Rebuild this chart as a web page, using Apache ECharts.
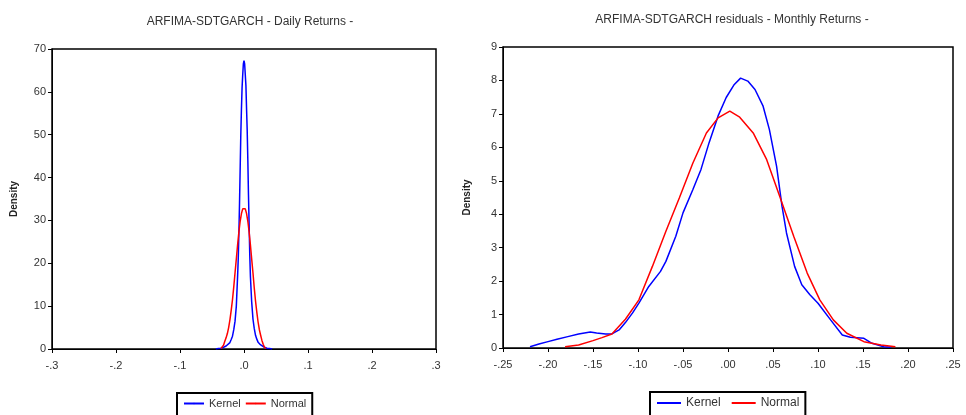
<!DOCTYPE html>
<html>
<head>
<meta charset="utf-8">
<script src="https://cdn.jsdelivr.net/npm/echarts@6/dist/echarts.min.js"></script>
<style>
html,body{margin:0;padding:0;background:#fff;}
#c{width:966px;height:415px;}
</style>
</head>
<body>
<div id="c"></div>
<script>
// ---- Daily returns (left panel) ----
const dailyKernelX = [-0.044,-0.040,-0.036,-0.032,-0.028,-0.025,-0.022,-0.020,-0.018,-0.016,-0.014,-0.012,-0.010,-0.009,-0.008,-0.007,-0.006,-0.005,-0.004,-0.003,-0.002,-0.001,0,0.001,0.002,0.003,0.004,0.005,0.006,0.007,0.008,0.009,0.010,0.012,0.014,0.016,0.018,0.020,0.022,0.025,0.028,0.032,0.036,0.040,0.044];
const dailyKernelY = [0.0,0.1,0.2,0.4,0.7,1.0,1.5,2.2,3.0,4.5,6.5,10,17,21,27,34,42,50,56,61,64,66.5,67.3,66.5,64,61.5,56,51,44,36,29,22,17,11,7,4.8,3.2,2.3,1.6,1.1,0.7,0.4,0.2,0.1,0.0];
const dailyNormalX = [-0.036,-0.034,-0.032,-0.030,-0.028,-0.026,-0.024,-0.022,-0.020,-0.018,-0.016,-0.014,-0.012,-0.010,-0.008,-0.006,-0.004,-0.002,0,0.002,0.004,0.006,0.008,0.010,0.012,0.014,0.016,0.018,0.020,0.022,0.024,0.026,0.028,0.030,0.032,0.034];
const dailyNormalY = [0.1,0.4,0.9,1.8,2.6,3.6,5.0,6.8,9.0,11.5,14.5,17.8,21.0,24.3,27.3,29.8,31.6,32.7,33.0,32.7,31.6,29.8,27.3,24.3,21.0,17.8,14.3,11.2,8.6,6.3,4.5,3.2,2.0,1.1,0.4,0.1];
const dailyXTicks = [-0.3,-0.2,-0.1,0,0.1,0.2,0.3];
const dailyYTicks = [0,10,20,30,40,50,60,70];

// ---- Monthly returns (right panel) ----
const monthlyKernelX = [-0.220,-0.210,-0.200,-0.190,-0.178,-0.166,-0.153,-0.146,-0.136,-0.129,-0.121,-0.114,-0.106,-0.099,-0.088,-0.075,-0.069,-0.058,-0.050,-0.039,-0.030,-0.021,-0.011,-0.002,0.007,0.014,0.022,0.030,0.039,0.046,0.054,0.060,0.065,0.074,0.082,0.091,0.100,0.114,0.127,0.136,0.151,0.160,0.173,0.181];
const monthlyKernelY = [0.04,0.12,0.19,0.26,0.34,0.42,0.48,0.45,0.42,0.42,0.54,0.76,1.05,1.34,1.84,2.29,2.59,3.34,4.04,4.74,5.34,6.14,6.94,7.49,7.88,8.07,7.98,7.73,7.23,6.53,5.43,4.24,3.44,2.44,1.89,1.59,1.34,0.84,0.39,0.32,0.29,0.14,0.04,0.02];
const monthlyNormalX = [-0.181,-0.166,-0.150,-0.140,-0.129,-0.114,-0.099,-0.084,-0.069,-0.054,-0.039,-0.024,-0.011,0.002,0.013,0.028,0.043,0.058,0.073,0.088,0.102,0.117,0.132,0.151,0.170,0.186];
const monthlyNormalY = [0.04,0.09,0.22,0.31,0.42,0.86,1.44,2.44,3.49,4.49,5.53,6.43,6.88,7.08,6.90,6.43,5.63,4.49,3.34,2.24,1.44,0.84,0.44,0.19,0.09,0.04];
const monthlyXTicks = [-0.25,-0.20,-0.15,-0.10,-0.05,0,0.05,0.10,0.15,0.20,0.25];
const monthlyYTicks = [0,1,2,3,4,5,6,7,8,9];

const zip = (xs, ys) => xs.map((x, i) => [x, ys[i]]);
const FONT = 'Liberation Sans';
const fmt = d => v => (Math.abs(v) < 1e-9 ? 0 : v).toFixed(d).replace(/^(-?)0\./, '$1.');

function xAxis(grid, ticks, d) {
  return {
    type: 'value', gridIndex: grid,
    min: ticks[0], max: ticks[ticks.length - 1], interval: ticks[1] - ticks[0],
    splitLine: {show: false},
    axisLine: {onZero: false, lineStyle: {color: '#000', width: 1}},
    axisTick: {show: true, length: 4, lineStyle: {color: '#000'}},
    axisLabel: {formatter: fmt(d), color: '#333', fontFamily: FONT, fontSize: 11, margin: 11, showMinLabel: true, showMaxLabel: true}
  };
}
function yAxis(grid, ticks, gap) {
  return {
    type: 'value', gridIndex: grid,
    min: ticks[0], max: ticks[ticks.length - 1], interval: ticks[1] - ticks[0],
    name: 'Density', nameLocation: 'middle', nameRotate: 90, nameGap: gap,
    nameTextStyle: {color: '#222', fontFamily: FONT, fontSize: 10, fontWeight: 'bold'},
    splitLine: {show: false},
    axisLine: {show: true, onZero: false, lineStyle: {color: '#000', width: 1}},
    axisTick: {show: true, length: 4, lineStyle: {color: '#000'}},
    axisLabel: {color: '#333', fontFamily: FONT, fontSize: 11, margin: 6}
  };
}
function line(name, data, color, xi) {
  return {
    name, type: 'line', xAxisIndex: xi, yAxisIndex: xi, data,
    symbol: 'none', smooth: false, animation: false,
    lineStyle: {color, width: 1.5}, itemStyle: {color}
  };
}
function legend(left, top, iw, fs, gap) {
  return {
    data: ['Kernel', 'Normal'], left, top, orient: 'horizontal',
    borderColor: '#000', borderWidth: 2, padding: [5, 6, 8, 6],
    itemWidth: iw, itemHeight: 2, itemGap: gap, selectedMode: false,
    textStyle: {color: '#333', fontFamily: FONT, fontSize: fs}
  };
}

const chart = echarts.init(document.getElementById('c'), null, {renderer: 'canvas'});
chart.setOption({
  backgroundColor: '#fff',
  animation: false,
  title: [
    {text: 'ARFIMA-SDTGARCH - Daily Returns -', left: 245, top: 11, textAlign: 'center',
     textStyle: {color: '#333', fontFamily: FONT, fontSize: 12, fontWeight: 'normal'}},
    {text: 'ARFIMA-SDTGARCH residuals - Monthly Returns -', left: 727, top: 9, textAlign: 'center',
     textStyle: {color: '#333', fontFamily: FONT, fontSize: 12, fontWeight: 'normal'}}
  ],
  legend: [legend(177, 393, 20, 11, 4), legend(650, 392, 24, 12, 10)],
  grid: [
    {left: 52, right: 530, top: 49, bottom: 66, show: true, borderColor: '#000', borderWidth: 1.5, backgroundColor: '#fff'},
    {left: 503, right: 13, top: 47, bottom: 67, show: true, borderColor: '#000', borderWidth: 1.5, backgroundColor: '#fff'}
  ],
  xAxis: [xAxis(0, dailyXTicks, 1), xAxis(1, monthlyXTicks, 2)],
  yAxis: [yAxis(0, dailyYTicks, 33), yAxis(1, monthlyYTicks, 31)],
  series: [
    line('Kernel', zip(dailyKernelX, dailyKernelY), '#0000ff', 0),
    line('Normal', zip(dailyNormalX, dailyNormalY), '#ff0000', 0),
    line('Kernel', zip(monthlyKernelX, monthlyKernelY), '#0000ff', 1),
    line('Normal', zip(monthlyNormalX, monthlyNormalY), '#ff0000', 1)
  ]
});
</script>
</body>
</html>
